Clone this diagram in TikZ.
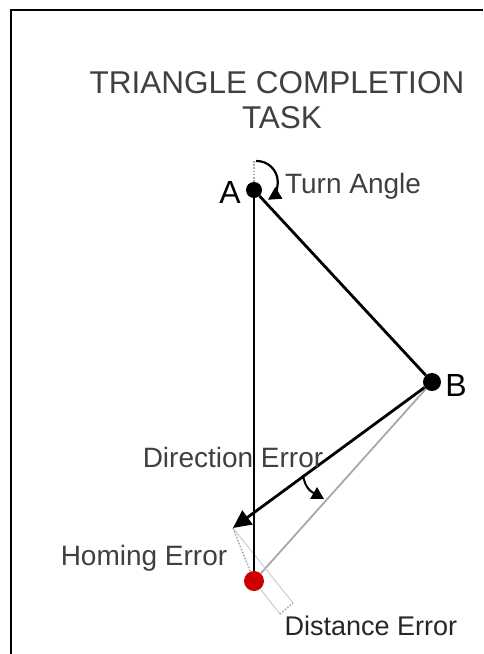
\documentclass[tikz,border=0pt]{standalone}
\usepackage{fontspec}
\setmainfont{Liberation Sans}
\usetikzlibrary{arrows.meta}
\definecolor{txtgrey}{HTML}{404040}
\definecolor{lgrey}{HTML}{A8A8A8}
\definecolor{llgrey}{HTML}{CCCCCC}
\definecolor{reddot}{HTML}{CC0000}
\tikzset{
  dot/.style={circle, fill=black, inner sep=0pt, minimum size=#1},
  rdot/.style={circle, fill=reddot, inner sep=0pt, minimum size=20pt},
  blk/.style={line width=2.8pt, black},
  gry/.style={line width=1.8pt, lgrey},
  lgry/.style={line width=1pt, llgrey},
  dotgry/.style={line width=1.6pt, lgrey, dash pattern=on 1.6pt off 1.6pt},
  lbl/.style={font=\fontsize{28}{30}\selectfont, text=txtgrey, inner sep=0pt},
  ttl/.style={font=\fontsize{31.5}{33}\selectfont, text=txtgrey, inner sep=0pt},
  ptlbl/.style={font=\fontsize{32}{34}\selectfont, text=black, inner sep=0pt},
}
\begin{document}
\begin{tikzpicture}[x=1pt,y=-1pt]
\useasboundingbox (0,0) rectangle (483,654);
\draw[line width=2pt] (11,654) -- (11,10) -- (483,10);
% title
\node[ttl] (t1) at (277,83) {TRIANGLE COMPLETION};
\node[ttl] (t2) at (282,118) {TASK};
% points
\node[dot=16pt] (A) at (254,190) {};
\node[dot=18pt] (B) at (432,382) {};
\node[rdot] (R) at (254,581) {};
\coordinate (T) at (233,528);
\coordinate (U) at (254,161);
\coordinate (D1) at (280,614);
\coordinate (D2) at (293,603);
% point labels
\node[ptlbl] (lA) at (230,192) {A};
\node[ptlbl] (lB) at (456,385) {B};
% lines
\draw[gry] (B) -- (R);
\draw[lgry] (T) -- (D2);
\draw[lgry] (R) -- (D1);
\draw[dotgry] (D1) -- (D2);
\draw[dotgry] (T) -- (R);
\draw[dotgry] (A) -- (U);
\draw[blk] (A) -- (R);
\draw[blk] (A) -- (B);
\draw[blk, -{Triangle[length=18pt,width=17pt]}] (B) -- (T);
% turn angle arc
\draw[line width=2.2pt, -{Triangle[length=13pt,width=13pt]}] (256,161) arc[start angle=-92, end angle=58, radius=21];
% direction error arc
\draw[line width=2pt, -{Triangle[length=12pt,width=13pt]}] (303,475) .. controls (305,489) and (312,492) .. (324,499);
% labels
\node[lbl] (l1) at (353,186) {Turn Angle};
\node[lbl] (l2) at (233,457) {Direction Error};
\node[lbl] (l3) at (144,558) {Homing Error};
\node[lbl, font=\fontsize{27}{29}\selectfont, text=black!85] (l4) at (371,626) {Distance Error};
\end{tikzpicture}
\end{document}
